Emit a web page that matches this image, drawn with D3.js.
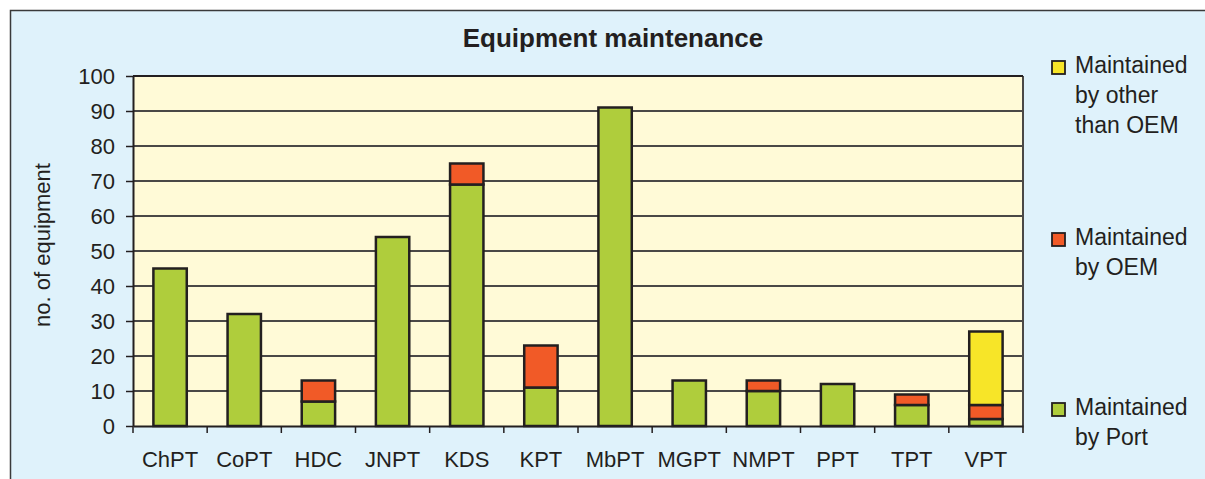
<!DOCTYPE html>
<html>
<head>
<meta charset="utf-8">
<script src="https://cdn.jsdelivr.net/npm/d3@7"></script>
<style>
  html, body { margin: 0; padding: 0; background: #ffffff; }
  svg { display: block; font-family: "Liberation Sans", Arial, sans-serif; }
</style>
</head>
<body>
<div id="chart"></div>
<script>

var ports = ["ChPT", "CoPT", "HDC", "JNPT", "KDS", "KPT", "MbPT", "MGPT", "NMPT", "PPT", "TPT", "VPT"];
var byPort = [45, 32, 7, 54, 69, 11, 91, 13, 10, 12, 6, 2];
var byOEM = [0, 0, 6, 0, 6, 12, 0, 0, 3, 0, 3, 4];
var byOther = [0, 0, 0, 0, 0, 0, 0, 0, 0, 0, 0, 21];
var yTicks = [0, 10, 20, 30, 40, 50, 60, 70, 80, 90, 100];

var seriesNames = ["Maintained by Port", "Maintained by OEM", "Maintained by other than OEM"];
var legendLines = [["Maintained", "by other", "than OEM"], ["Maintained", "by OEM"], ["Maintained", "by Port"]];

var W = 1205, H = 479;
var colors = ["#afcd3c", "#f15a27", "#f7e528"];
var ink = "#231f20";

var svg = d3.select("#chart").append("svg")
	.attr("width", W)
	.attr("height", H);

// outer panel
svg.append("rect")
	.attr("x", 10.5)
	.attr("y", 10.5)
	.attr("width", W)
	.attr("height", H)
	.attr("fill", "#dff2fb")
	.attr("stroke", "#3a3a3a")
	.attr("stroke-width", 1.5);

var plot = {left: 133, top: 76, right: 1023, bottom: 426};

var x = d3.scaleBand()
	.domain(ports)
	.range([plot.left, plot.right])
	.padding(0);

var y = d3.scaleLinear()
	.domain([0, 100])
	.range([plot.bottom, plot.top]);

// plot background
svg.append("rect")
	.attr("x", plot.left)
	.attr("y", plot.top)
	.attr("width", plot.right - plot.left)
	.attr("height", plot.bottom - plot.top)
	.attr("fill", "#fffad7");

// grid lines
svg.append("g")
	.attr("class", "yGridLines")
	.selectAll("line")
	.data(yTicks.filter(function(d) { return d > 0; }))
	.enter().append("line")
	.attr("x1", plot.left)
	.attr("x2", plot.right)
	.attr("y1", function(d) { return y(d); })
	.attr("y2", function(d) { return y(d); })
	.attr("stroke", "#4a4846")
	.attr("stroke-width", 1.8);

// stacked bars
var rows = ports.map(function(p, i)
{
	return {port: p, s0: byPort[i], s1: byOEM[i], s2: byOther[i]};
});
var stack = d3.stack().keys(["s0", "s1", "s2"]);
var layers = stack(rows);

var barW = x.bandwidth() * 0.45;

svg.append("g")
	.attr("class", "bars")
	.selectAll("g")
	.data(layers)
	.enter().append("g")
	.attr("fill", function(d, i) { return colors[i]; })
	.selectAll("rect")
	.data(function(d) { return d.filter(function(s) { return s[1] - s[0] > 0; }); })
	.enter().append("rect")
	.attr("x", function(d) { return x(d.data.port) + (x.bandwidth() - barW) / 2; })
	.attr("width", barW)
	.attr("y", function(d) { return y(d[1]); })
	.attr("height", function(d) { return y(d[0]) - y(d[1]); })
	.attr("stroke", ink)
	.attr("stroke-width", 2.5);

// y axis
var yAxis = svg.append("g")
	.attr("class", "yAxis")
	.attr("transform", "translate(" + plot.left + ",0)")
	.call(d3.axisLeft(y).tickValues(yTicks).tickSize(7).tickPadding(11).tickSizeOuter(0));

yAxis.select(".domain").attr("stroke", ink).attr("stroke-width", 2);
yAxis.selectAll(".tick line").attr("stroke", ink).attr("stroke-width", 1.5);
yAxis.selectAll(".tick text")
	.attr("fill", ink)
	.style("font-size", "22px")
	.style("font-family", "'Liberation Sans', Arial, sans-serif");

// right border of plot
svg.append("line")
	.attr("x1", plot.right)
	.attr("x2", plot.right)
	.attr("y1", plot.top)
	.attr("y2", plot.bottom + 7)
	.attr("stroke", "#4a4846")
	.attr("stroke-width", 2);

// top border of plot
svg.append("line")
	.attr("x1", plot.left)
	.attr("x2", plot.right)
	.attr("y1", plot.top)
	.attr("y2", plot.top)
	.attr("stroke", ink)
	.attr("stroke-width", 1.8);

// x axis
var xAxis = svg.append("g")
	.attr("class", "xAxis")
	.attr("transform", "translate(0," + plot.bottom + ")")
	.call(d3.axisBottom(x).tickSize(0));

xAxis.select(".domain").attr("stroke", ink).attr("stroke-width", 2.2);
xAxis.selectAll(".tick text")
	.attr("fill", ink)
	.attr("y", 41)
	.attr("dy", null)
	.style("font-size", "22px")
	.style("font-family", "'Liberation Sans', Arial, sans-serif");

// ticks at category boundaries
xAxis.append("g")
	.attr("class", "xTicks")
	.selectAll("line")
	.data(ports)
	.enter().append("line")
	.attr("x1", function(d) { return x(d); })
	.attr("x2", function(d) { return x(d); })
	.attr("y1", 0)
	.attr("y2", 7)
	.attr("stroke", ink)
	.attr("stroke-width", 1.5);

// title
svg.append("text")
	.attr("x", 613)
	.attr("y", 47)
	.attr("text-anchor", "middle")
	.attr("fill", ink)
	.style("font-size", "26px")
	.style("font-weight", "bold")
	.text("Equipment maintenance");

// y label
svg.append("text")
	.attr("transform", "translate(50,245) rotate(-90)")
	.attr("text-anchor", "middle")
	.attr("fill", ink)
	.style("font-size", "22px")
	.text("no. of equipment");

// legend
var legendTops = [73, 245, 415];
var legendColors = [colors[2], colors[1], colors[0]];

var legend = svg.append("g")
	.attr("class", "legend")
	.selectAll("g")
	.data(legendLines)
	.enter().append("g")
	.attr("transform", function(d, i) { return "translate(1052," + legendTops[i] + ")"; });

legend.append("rect")
	.attr("x", 0)
	.attr("y", -12)
	.attr("width", 13)
	.attr("height", 13)
	.attr("fill", function(d, i) { return legendColors[i]; })
	.attr("stroke", ink)
	.attr("stroke-width", 1.8);

legend.append("text")
	.attr("fill", ink)
	.style("font-size", "23px")
	.selectAll("tspan")
	.data(function(d) { return d; })
	.enter().append("tspan")
	.attr("x", 23)
	.attr("y", function(d, i) { return i * 30; })
	.text(function(d) { return d; });

</script>
</body>
</html>
